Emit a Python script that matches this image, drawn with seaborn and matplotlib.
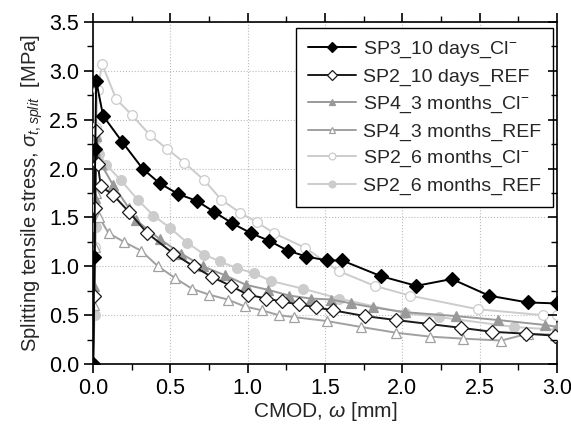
import numpy as np
import pandas as pd
import seaborn as sns
import matplotlib.pyplot as plt
from matplotlib.ticker import MultipleLocator

# values
sp3_10d_cl_x = [0.0, 0.008, 0.014, 0.02, 0.065, 0.19, 0.32, 0.43, 0.55, 0.67, 0.78, 0.90, 1.02,
                1.14, 1.26, 1.38, 1.51, 1.61, 1.86, 2.09, 2.32, 2.56, 2.81, 3.0]
sp3_10d_cl_y = [0.0, 1.1, 2.2, 2.9, 2.54, 2.27, 2.0, 1.85, 1.74, 1.67, 1.56, 1.44, 1.34,
                1.26, 1.16, 1.10, 1.06, 1.06, 0.90, 0.80, 0.87, 0.70, 0.63, 0.62]

sp2_10d_ref_x = [0.0, 0.008, 0.014, 0.02, 0.03, 0.05, 0.13, 0.23, 0.35, 0.52, 0.65, 0.77, 0.89,
                 1.0, 1.12, 1.22, 1.33, 1.44, 1.55, 1.76, 1.96, 2.17, 2.38, 2.58, 2.8, 2.99]
sp2_10d_ref_y = [0.0, 0.7, 1.6, 2.38, 2.05, 1.82, 1.73, 1.56, 1.34, 1.13, 1.0, 0.89, 0.80,
                 0.71, 0.67, 0.64, 0.61, 0.58, 0.55, 0.49, 0.45, 0.41, 0.37, 0.33, 0.31, 0.29]

sp4_3m_cl_x = [0.0, 0.008, 0.014, 0.02, 0.05, 0.13, 0.23, 0.28, 0.43, 0.57, 0.71, 0.85, 0.99,
               1.13, 1.27, 1.41, 1.54, 1.67, 1.81, 2.02, 2.35, 2.62, 2.92, 3.0]
sp4_3m_cl_y = [0.0, 0.8, 1.7, 2.33, 2.05, 1.83, 1.60, 1.47, 1.28, 1.13, 1.0, 0.91, 0.81,
               0.76, 0.70, 0.67, 0.66, 0.62, 0.58, 0.53, 0.49, 0.45, 0.40, 0.38]

sp4_3m_ref_x = [0.0, 0.008, 0.014, 0.02, 0.04, 0.1, 0.2, 0.31, 0.42, 0.53, 0.64, 0.75, 0.87,
                0.98, 1.09, 1.2, 1.3, 1.51, 1.73, 1.96, 2.18, 2.39, 2.64, 2.81, 2.99]
sp4_3m_ref_y = [0.0, 0.6, 1.2, 1.75, 1.5, 1.34, 1.25, 1.16, 1.0, 0.88, 0.77, 0.71, 0.66,
                0.59, 0.55, 0.50, 0.48, 0.44, 0.38, 0.32, 0.28, 0.26, 0.24, 0.31, 0.30]

sp2_6m_cl_x = [0.0, 0.01, 0.02, 0.03, 0.058, 0.15, 0.25, 0.37, 0.48, 0.59, 0.72, 0.83, 0.95,
               1.06, 1.17, 1.37, 1.59, 1.82, 2.05, 2.49, 2.91, 3.0]
sp2_6m_cl_y = [0.0, 1.2, 2.43, 2.8, 3.07, 2.71, 2.55, 2.34, 2.2, 2.06, 1.88, 1.68, 1.55,
               1.45, 1.34, 1.19, 0.95, 0.80, 0.70, 0.56, 0.50, 0.50]

sp2_6m_ref_x = [0.0, 0.01, 0.016, 0.02, 0.04, 0.085, 0.18, 0.29, 0.39, 0.5, 0.61, 0.72, 0.82,
                0.93, 1.04, 1.15, 1.36, 1.59, 2.02, 2.24, 2.72, 3.0]
sp2_6m_ref_y = [0.0, 0.5, 1.4, 2.3, 2.15, 2.04, 1.88, 1.68, 1.52, 1.39, 1.24, 1.12, 1.05,
                0.98, 0.93, 0.85, 0.77, 0.67, 0.52, 0.48, 0.38, 0.35]

labels = ['SP3_10 days_Cl$^{-}$', 'SP2_10 days_REF', 'SP4_3 months_Cl$^{-}$',
          'SP4_3 months_REF', 'SP2_6 months_Cl$^{-}$', 'SP2_6 months_REF']
xs = [sp3_10d_cl_x, sp2_10d_ref_x, sp4_3m_cl_x, sp4_3m_ref_x, sp2_6m_cl_x, sp2_6m_ref_x]
ys = [sp3_10d_cl_y, sp2_10d_ref_y, sp4_3m_cl_y, sp4_3m_ref_y, sp2_6m_cl_y, sp2_6m_ref_y]

colors = ['black', '#1a1a1a', '#999999', '#a0a0a0', '#cccccc', '#cccccc']
markers = ['D', 'D', '^', '^', 'o', 'o']
faces = ['black', 'white', '#999999', 'white', 'white', '#cccccc']
zorders = [8, 7, 6, 5, 4, 3]

sns.set_style('ticks')
plt.rcParams['font.family'] = ['Liberation Sans', 'DejaVu Sans']
plt.rcParams['mathtext.fontset'] = 'custom'
plt.rcParams['mathtext.rm'] = 'Liberation Sans'
plt.rcParams['mathtext.it'] = 'Liberation Sans:italic'

fig = plt.figure(figsize=(5.71, 4.28), dpi=100)
ax = fig.add_axes([0.163, 0.1495, 0.8125, 0.799])

for i in range(6):
    sns.lineplot(x=xs[i], y=ys[i], ax=ax, sort=False, estimator=None, color=colors[i],
                 linewidth=1.4, marker=markers[i], markersize=7, markerfacecolor=faces[i],
                 markeredgecolor=colors[i], markeredgewidth=0.9, label=labels[i],
                 zorder=zorders[i])

ax.set_xlim(0, 3.0)
ax.set_ylim(0, 3.5)
ax.xaxis.set_major_locator(MultipleLocator(0.5))
ax.xaxis.set_minor_locator(MultipleLocator(0.25))
ax.yaxis.set_major_locator(MultipleLocator(0.5))
ax.yaxis.set_minor_locator(MultipleLocator(0.25))
ax.xaxis.set_major_formatter('{x:.1f}')
ax.yaxis.set_major_formatter('{x:.1f}')
ax.grid(True, which='major', linestyle=':', color='#bbbbbb', linewidth=0.8)

for s in ax.spines.values():
    s.set_visible(True)
    s.set_linewidth(1.2)
    s.set_color('black')
ax.tick_params(axis='both', which='major', direction='out', top=True, bottom=True,
               left=True, right=False, length=6.5, width=1.2, color='black',
               labelsize=15.5, labelcolor='black')
ax.tick_params(axis='both', which='minor', direction='out', top=True, bottom=True,
               left=True, right=False, length=4, width=1.0, color='black')

# right side ticks point inwards in the reference
ax2 = ax.twinx()
ax2.set_ylim(0, 3.5)
ax2.yaxis.set_major_locator(MultipleLocator(0.5))
ax2.yaxis.set_minor_locator(MultipleLocator(0.25))
ax2.tick_params(axis='y', which='major', direction='in', left=False, right=True,
                labelright=False, length=6.5, width=1.2, color='black')
ax2.tick_params(axis='y', which='minor', direction='in', left=False, right=True,
                labelright=False, length=4, width=1.0, color='black')
for s in ax2.spines.values():
    s.set_visible(False)

ax.set_xlabel(r'CMOD, $\omega$ [mm]', fontsize=15, labelpad=1)
ax.set_ylabel(r'Splitting tensile stress, $\sigma_{t,split}$  [MPa]', fontsize=14.5, labelpad=3)

leg = ax.legend(loc='upper right', bbox_to_anchor=(0.991, 0.982), borderaxespad=0,
                fontsize=14, frameon=True, fancybox=False, edgecolor='black',
                framealpha=1, handlelength=2.5, labelspacing=0.42, handletextpad=0.35,
                borderpad=0.6, markerscale=0.7)
leg.get_frame().set_linewidth(1.0)
leg.set_zorder(20)

plt.savefig('out.png', dpi=100)
